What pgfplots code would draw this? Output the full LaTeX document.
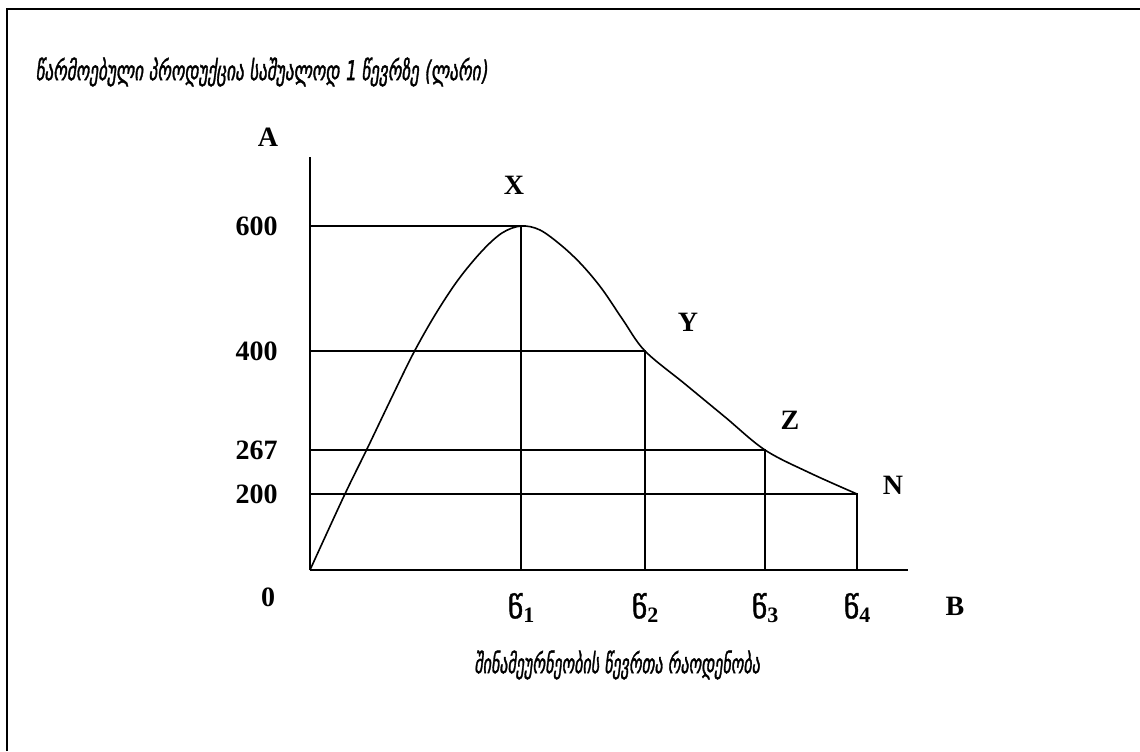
\documentclass[border=0pt]{standalone}
\usepackage{fontspec}
\setmainfont{Liberation Serif}
\newfontfamily\geo[FakeSlant=0.2, FakeBold=1.8]{DejaVu Sans}
\newfontfamily\geoup[FakeBold=1.2]{DejaVu Sans}
\usepackage{pgfplots}
\pgfplotsset{compat=1.18}
\newcommand{\tsi}[1]{{\geoup\fontsize{15}{17}\selectfont წ}\raisebox{-0.5ex}{\fontsize{11}{13}\selectfont\bfseries #1}}
\begin{document}
\begin{tikzpicture}
\useasboundingbox (0,0) rectangle (570pt,375.5pt);
\draw[line width=1.2pt] (3.5pt,0) -- (3.5pt,371pt) -- (570pt,371pt);
\node[anchor=west, inner sep=0pt] at (17.5pt,339.5pt) {\scalebox{0.955}[1.5]{\geo\fontsize{9}{11}\selectfont წარმოებული პროდუქცია საშუალოდ 1 წევრზე (ლარი)}};
\node[inner sep=0pt] at (308.5pt,43pt) {\scalebox{0.89}[1.5]{\geo\fontsize{9}{11}\selectfont შინამეურნეობის წევრთა რაოდენობა}};
\begin{axis}[
  at={(155pt,90.5pt)}, anchor=south west,
  scale only axis, width=299pt, height=206.5pt,
  xmin=0, xmax=598, ymin=0, ymax=413,
  axis x line*=bottom, axis y line*=left,
  axis line style={line width=1pt,-},
  major tick length=0pt,
  xtick={211,335,455,547},
  xticklabels={\tsi{1},\tsi{2},\tsi{3},\tsi{4}},
  ytick={76,120,219,344},
  yticklabels={200,267,400,600},
  yticklabel style={anchor=east, inner sep=0pt, xshift=-16pt, font=\fontsize{14}{16}\selectfont\bfseries},
  xticklabel style={anchor=center, inner sep=0pt, yshift=-19pt},
  clip=false,
]
\addplot[black, line width=1pt] coordinates {(0,344) (211,344) (211,0)};
\addplot[black, line width=1pt] coordinates {(0,219) (335,219) (335,0)};
\addplot[black, line width=1pt] coordinates {(0,120) (455,120) (455,0)};
\addplot[black, line width=1pt] coordinates {(0,76) (547,76) (547,0)};
\addplot[black, line width=0.8pt, smooth, tension=0.55] coordinates {
(0,0) (34,74) (57,121) (80,169) (103,216) (125,255) (148,290) (172,319) (192,337) (211,344)
(230,340) (252,324) (272,305) (292,281) (313,250) (335,219) (375,186) (415,153) (455,120)
(500,97) (547,76)};
\begin{scope}[font=\fontsize{14}{16}\selectfont\bfseries]
\node at (axis cs:-42,433) {A};
\node at (axis cs:645,-36) {B};
\node at (axis cs:-42,-27) {0};
\node at (axis cs:204,385) {X};
\node at (axis cs:378,248) {Y};
\node at (axis cs:480,150) {Z};
\node at (axis cs:583,85) {N};
\end{scope}
\end{axis}
\end{tikzpicture}
\end{document}
